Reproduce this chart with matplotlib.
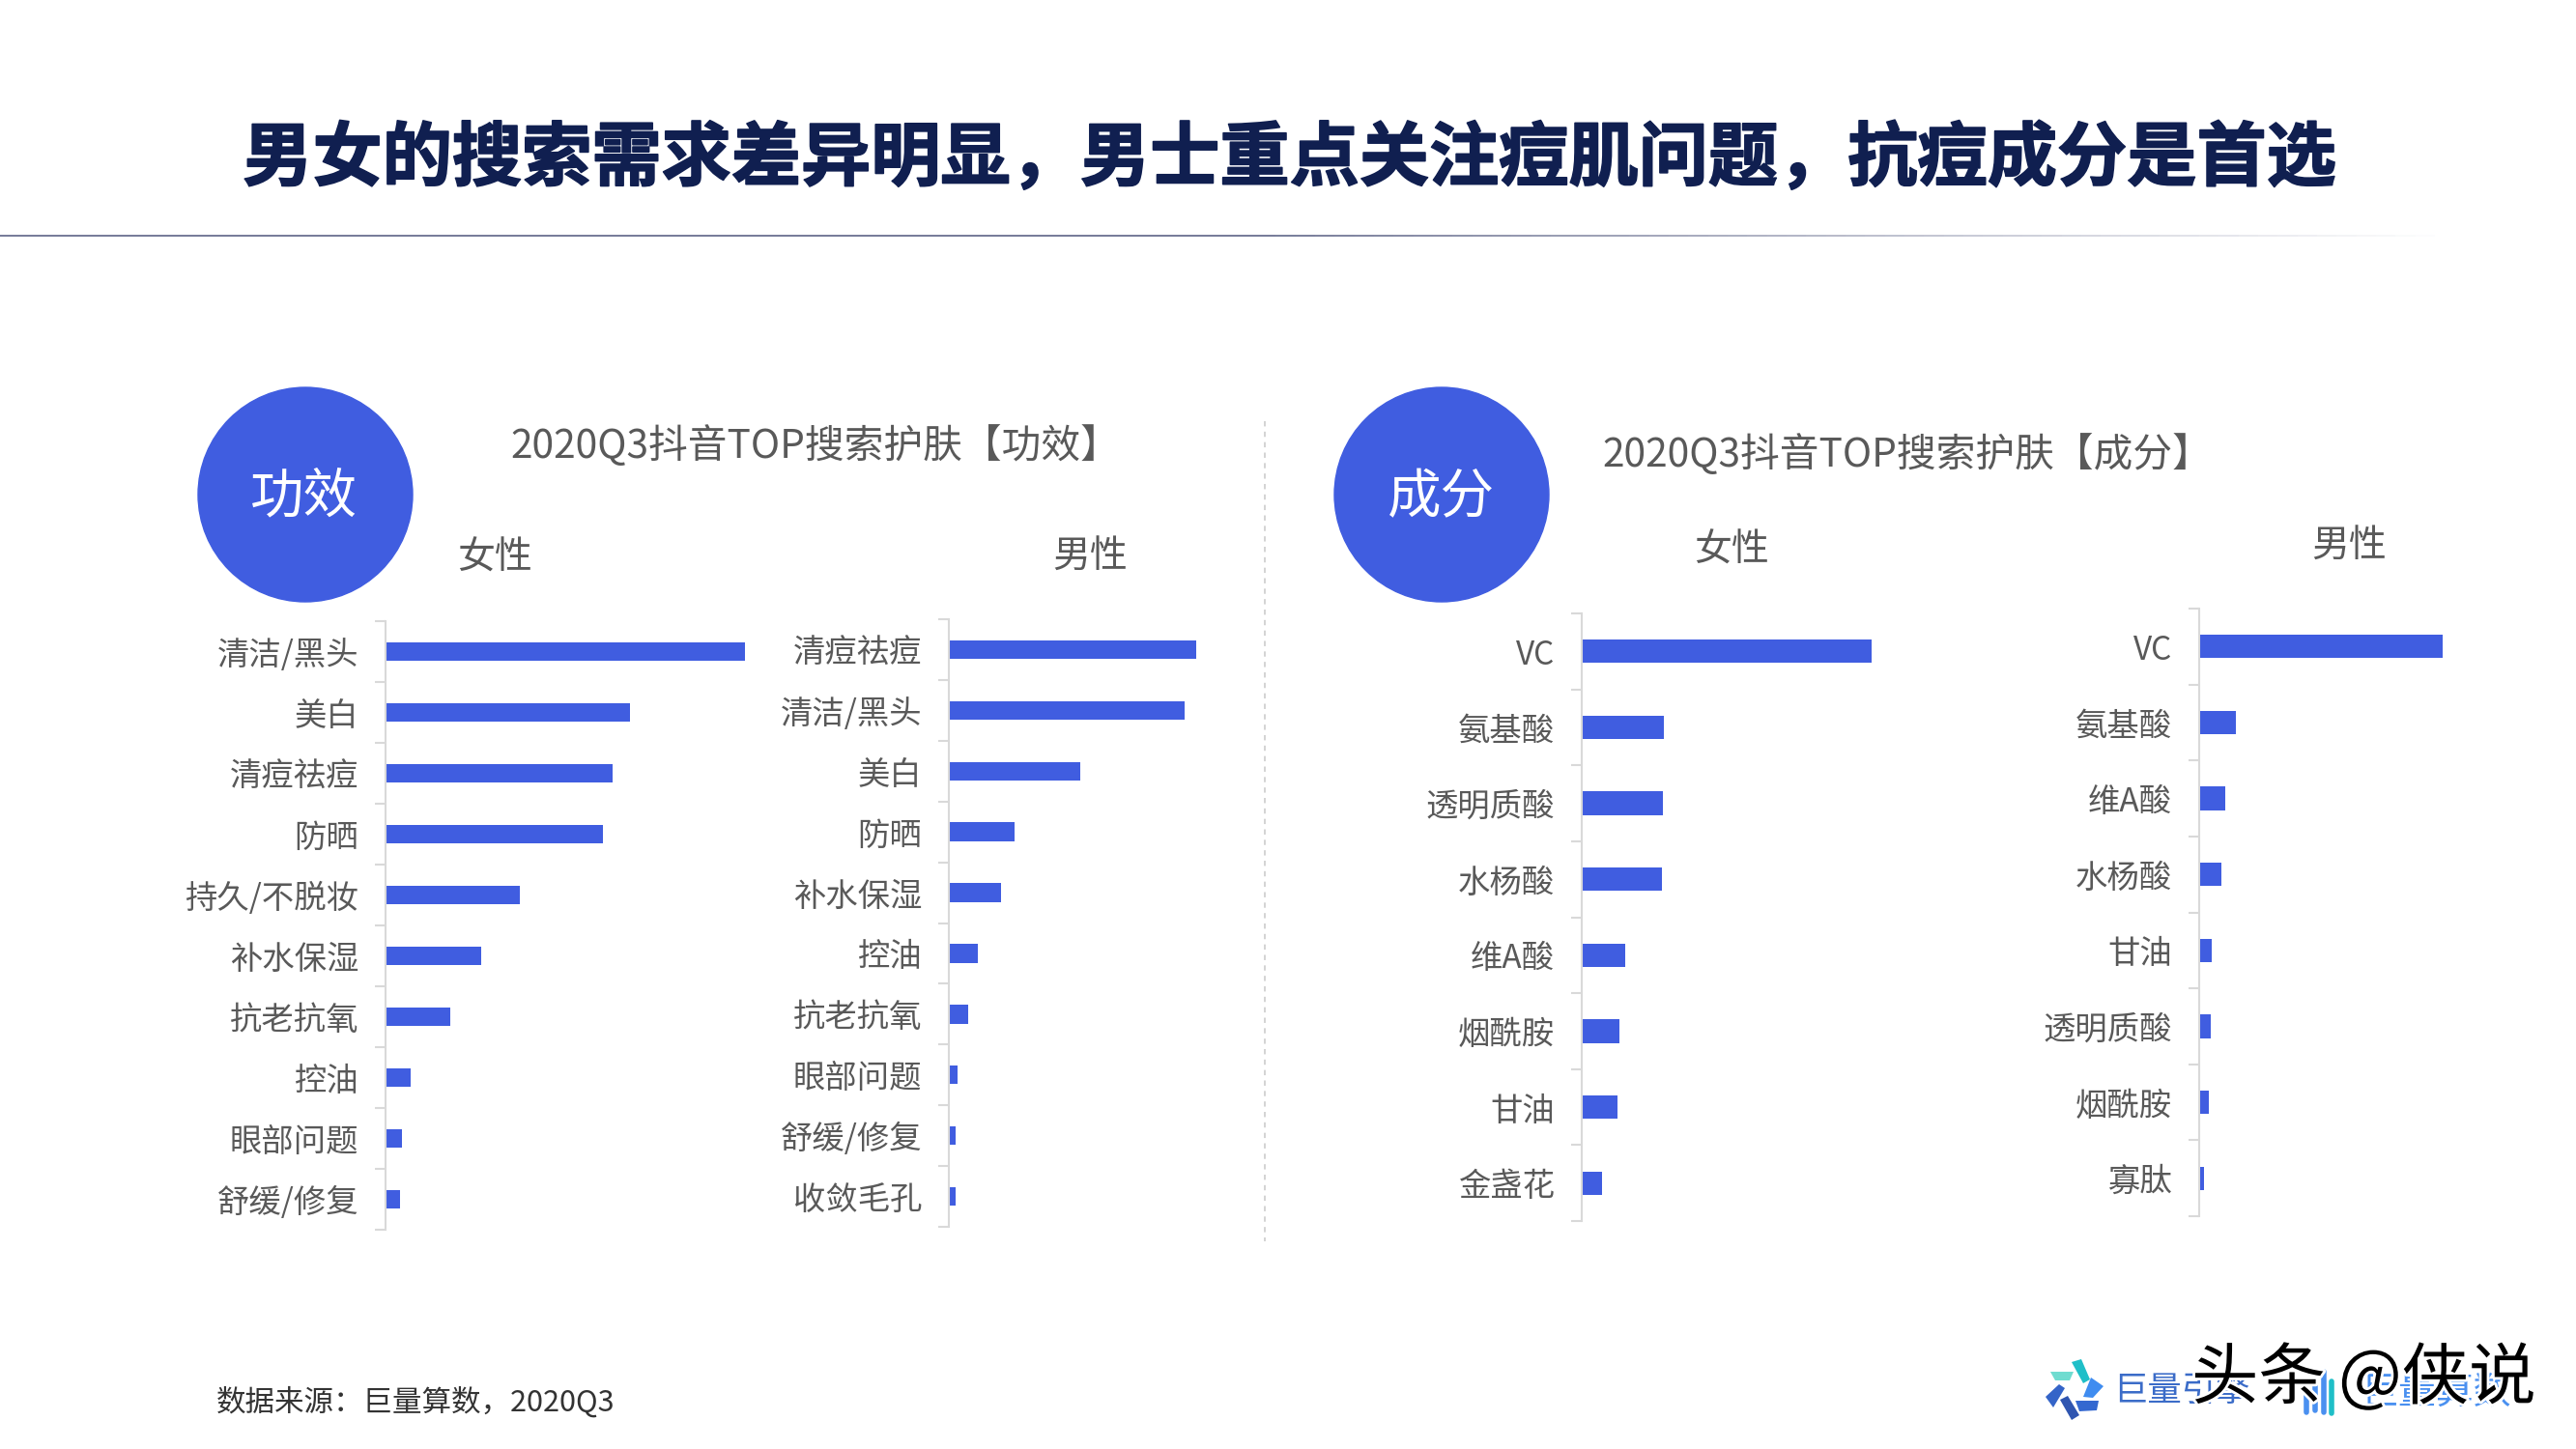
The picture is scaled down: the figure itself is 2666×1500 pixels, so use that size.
import matplotlib

matplotlib.use("Agg")

import matplotlib.pyplot as plt
from matplotlib.collections import LineCollection
from matplotlib.colors import to_rgb
from matplotlib.patches import Circle, Polygon
import matplotlib.patheffects as pe

plt.rcParams['font.family'] = ['Noto Sans CJK SC', 'DejaVu Sans']

W, H = 2666, 1500
BLUE = "#405de0"
GREY = "#595959"

# search index, top item of each chart = 100
eff_f_labels = ["清洁/黑头", "美白", "清痘祛痘", "防晒", "持久/不脱妆", "补水保湿", "抗老抗氧", "控油", "眼部问题", "舒缓/修复"]
eff_f_values = [100, 67.9, 63.1, 60.4, 37.3, 26.6, 17.9, 6.9, 4.5, 3.9]
eff_m_labels = ["清痘祛痘", "清洁/黑头", "美白", "防晒", "补水保湿", "控油", "抗老抗氧", "眼部问题", "舒缓/修复", "收敛毛孔"]
eff_m_values = [100, 95.4, 53, 26.6, 20.9, 11.7, 8, 3.4, 2.9, 2.9]
ing_f_labels = ["VC", "氨基酸", "透明质酸", "水杨酸", "维A酸", "烟酰胺", "甘油", "金盏花"]
ing_f_values = [100, 28.2, 28, 27.6, 14.9, 13, 12.4, 6.9]
ing_m_labels = ["VC", "氨基酸", "维A酸", "水杨酸", "甘油", "透明质酸", "烟酰胺", "寡肽"]
ing_m_values = [100, 15.1, 10.9, 9.2, 5.3, 4.9, 3.9, 2]


def bar_panel(fig, labels, values, x0, x1, y0, y1):
    # x0..x1 is the width of the longest bar, y0..y1 the axis line, in pixels
    ax = fig.add_axes([x0 / W, 1 - y1 / H, (x1 - x0) / W, (y1 - y0) / H])
    pos = list(range(len(labels)))
    ax.barh(pos, values, height=0.31, color=BLUE, clip_on=False)
    ax.set_xlim(0, 100)
    ax.set_ylim(len(labels) - 0.5, -0.5)
    ax.patch.set_visible(False)
    for side in ["top", "right", "bottom"]:
        ax.spines[side].set_visible(False)
    ax.spines["left"].set_color("#d9d9d9")
    ax.spines["left"].set_linewidth(1.5)
    ax.set_xticks([])
    ax.set_yticks(pos)
    ax.set_yticklabels(labels, fontsize=24, color=GREY, fontweight="light")
    ax.set_yticks([p - 0.5 for p in pos] + [len(labels) - 0.5], minor=True)
    ax.tick_params(axis="y", which="major", length=0, pad=20)
    ax.tick_params(axis="y", which="minor", length=8, width=1.5, color="#d9d9d9")
    return ax


fig = plt.figure(figsize=(W / 100, H / 100), dpi=100, facecolor="white")

bg = fig.add_axes([0, 0, 1, 1])
bg.set_xlim(0, W)
bg.set_ylim(H, 0)
bg.axis("off")

bg.text(1335, 165, "男女的搜索需求差异明显，男士重点关注痘肌问题，抗痘成分是首选", fontsize=52,
        fontweight="bold", color="#101f50", ha="center", va="center",
        path_effects=[pe.withStroke(linewidth=1.2, foreground="#101f50")])

# header rule, solid on the left and fading out to the right
line_color = to_rgb("#6a7090")
bg.plot([0, 1300], [244, 244], color=line_color, lw=1.3, solid_capstyle="butt")
steps = 60
xs = [1300 + (2520 - 1300) * i / steps for i in range(steps + 1)]
segs = [[(xs[i], 244), (xs[i + 1], 244)] for i in range(steps)]
cols = [line_color + (1 - i / steps,) for i in range(steps)]
bg.add_collection(LineCollection(segs, colors=cols, linewidths=1.3))

bg.plot([1309, 1309], [436, 1285], color="#d0d0d0", lw=1.3, ls=(0, (3, 3)))

bg.add_patch(Circle((316, 512), 111, color=BLUE))
bg.add_patch(Circle((1492, 512), 111, color=BLUE))
bg.text(314, 515, "功效", fontsize=40, color="white", ha="center", va="center", fontweight="light")
bg.text(1491, 515, "成分", fontsize=40, color="white", ha="center", va="center", fontweight="light")

bg.text(844, 462, "2020Q3抖音TOP搜索护肤【功效】", fontsize=29.3, color=GREY, ha="center", va="center", fontweight="light")
bg.text(1974, 471, "2020Q3抖音TOP搜索护肤【成分】", fontsize=29.3, color=GREY, ha="center", va="center", fontweight="light")
bg.text(512, 578, "女性", fontsize=28, color=GREY, ha="center", va="center", fontweight="light")
bg.text(1128, 576, "男性", fontsize=28, color=GREY, ha="center", va="center", fontweight="light")
bg.text(1792, 570, "女性", fontsize=28, color=GREY, ha="center", va="center", fontweight="light")
bg.text(2431, 565, "男性", fontsize=28, color=GREY, ha="center", va="center", fontweight="light")

bar_panel(fig, eff_f_labels, eff_f_values, 399, 771, 643, 1273)
bar_panel(fig, eff_m_labels, eff_m_values, 982, 1238, 641, 1270)
bar_panel(fig, ing_f_labels, ing_f_values, 1637, 1937, 635, 1264)
bar_panel(fig, ing_m_labels, ing_m_values, 2276, 2528, 630, 1259)

bg.text(224, 1451, "数据来源：巨量算数，2020Q3", fontsize=22, color="#333333", ha="left", va="center")

# logo marks
for pts, col in [
    ([(2122, 1420), (2146, 1420), (2142, 1429), (2127, 1429)], "#6fdcd0"),
    ([(2144, 1410), (2154, 1407), (2163, 1428), (2156, 1432)], "#1fbfc8"),
    ([(2164, 1426), (2177, 1435), (2166, 1447), (2156, 1446)], "#3f8cf0"),
    ([(2148, 1450), (2172, 1450), (2170, 1460), (2152, 1461)], "#3468d0"),
    ([(2132, 1449), (2140, 1445), (2152, 1465), (2144, 1470)], "#2f55b0"),
    ([(2117, 1446), (2131, 1433), (2137, 1437), (2125, 1457)], "#3464c8"),
]:
    bg.add_patch(Polygon(pts, closed=True, color=col, lw=0))
for x, top, bottom, col in [(2387, 1445, 1462, "#4a90f0"), (2396, 1435, 1460, "#4a90f0"),
                            (2405, 1420, 1462, "#4a90f0"), (2413, 1430, 1463, "#1fbfc8")]:
    bg.plot([x, x], [top, bottom], color=col, lw=4, solid_capstyle="round")
bg.text(2187, 1441, "巨量引擎", fontsize=25.5, color="#3b6cc8", ha="left", va="center")
bg.text(2443, 1442, "巨量算数", fontsize=28, color="#4a90f0", ha="left", va="center")

# watermark sits on top of the logos
bg.text(2268, 1428, "头条", fontsize=50, color="black", ha="left", va="center",
        path_effects=[pe.withStroke(linewidth=4, foreground="white")])
bg.text(2420, 1428, "@侠说", fontsize=50, color="black", ha="left", va="center",
        path_effects=[pe.withStroke(linewidth=4, foreground="white")])

fig.savefig("out.png", dpi=100)
